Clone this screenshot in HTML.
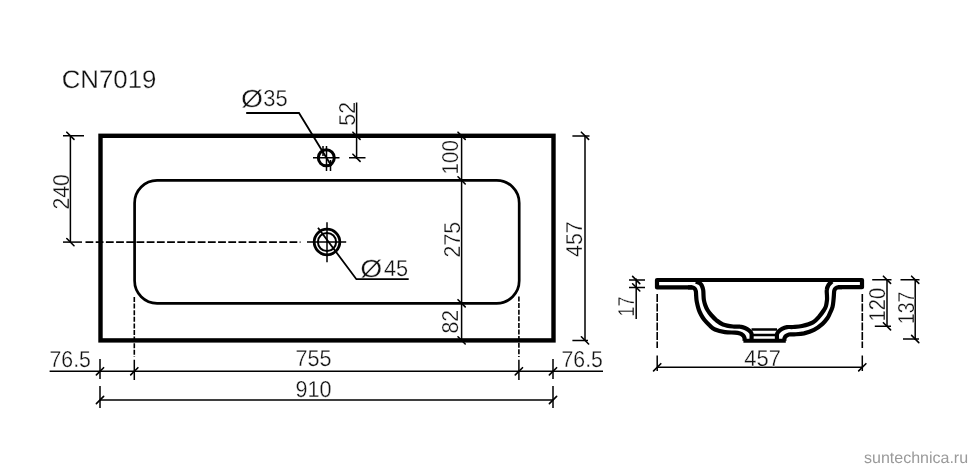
<!DOCTYPE html>
<html lang="ru">
<head>
<meta charset="utf-8">
<title>CN7019</title>
<style>
html,body{margin:0;padding:0;background:#fff;}
body{width:970px;height:469px;overflow:hidden;position:relative;}
svg{display:block;position:absolute;left:0;top:0;will-change:transform;}
text{text-rendering:geometricPrecision;font-family:"Liberation Sans",sans-serif;fill:#111;stroke:#fff;stroke-width:0.3px;}
.d{font-size:23px;}
.t{stroke:#000;stroke-width:1.5;fill:none;}
.k{stroke:#000;stroke-width:1.6;fill:none;stroke-linecap:round;}
.dash{stroke:#000;stroke-width:1.6;fill:none;stroke-dasharray:5 1.6;}
.w{stroke:#000;stroke-width:4.2;fill:none;stroke-linejoin:round;}
</style>
</head>
<body>
<svg width="970" height="469" viewBox="0 0 970 469">
<rect width="970" height="469" fill="#fff"/>

<!-- title -->
<text x="61.7" y="87.5" style="font-size:25.4px" textLength="94.8" lengthAdjust="spacingAndGlyphs">CN7019</text>

<!-- top view: outer and inner outline -->
<rect x="100.5" y="135.8" width="453" height="204.6" fill="none" stroke="#000" stroke-width="4.4"/>
<rect x="134.6" y="180.4" width="384.6" height="122.9" rx="22.5" ry="22.5" fill="none" stroke="#000" stroke-width="2.7"/>

<!-- 240 dimension -->
<path class="t" d="M70.4 135.8V242M63 135.8H84"/>
<path class="k" d="M66.8 132.2l7.2 7.2M66.8 238.5l7.2 7.2"/>
<path class="t" d="M63 242.1H82"/><path class="dash" style="stroke-dasharray:7.8 2.4;stroke-width:1.7" d="M85.5 242.1H300.5"/>
<text class="d" transform="translate(68.6 191.8) rotate(-90)" text-anchor="middle" textLength="35.5" lengthAdjust="spacingAndGlyphs">240</text>

<!-- tap hole -->
<circle cx="326.3" cy="157.8" r="8" fill="none" stroke="#000" stroke-width="3"/>
<path class="t" d="M313 157.8H339.5M326.5 146V171M323 146V156M330.5 160V171"/>
<path class="t" style="stroke-width:1.8" d="M246.2 113H299L331.5 166"/>
<text transform="translate(240.9 107.1) scale(1.15 1)" style="font-size:24.6px">Ø</text><text class="d" x="263.2" y="106.1" textLength="24.4" lengthAdjust="spacingAndGlyphs">35</text>

<!-- 52 dimension -->
<path class="t" d="M356.6 102.5V159M349 157.8H365.5"/>
<path class="k" d="M352.9 132.2l7.2 7.2M352.9 154.2l7.2 7.2"/>
<text class="d" transform="translate(354.8 113.8) rotate(-90)" text-anchor="middle" textLength="23.7" lengthAdjust="spacingAndGlyphs">52</text>

<!-- drain -->
<circle cx="327" cy="242" r="12.8" fill="none" stroke="#000" stroke-width="2.8"/>
<circle cx="327" cy="242" r="9.1" fill="none" stroke="#000" stroke-width="2"/>
<path class="t" d="M307 242H346.2M327 222.3V262.2"/>
<path class="t" style="stroke-width:1.8" d="M318 227.8L356.4 279.2H408.7"/>
<text transform="translate(360.2 277) scale(1.15 1)" style="font-size:24.6px">Ø</text><text class="d" x="383.9" y="275.8" textLength="24.2" lengthAdjust="spacingAndGlyphs">45</text>

<!-- 100 / 275 / 82 chain -->
<path class="t" d="M461.6 136V340.4"/>
<path class="k" d="M458.0 132.2l7.2 7.2M458.0 176.8l7.2 7.2M458.0 299.7l7.2 7.2M458.0 336.8l7.2 7.2"/>
<text class="d" transform="translate(457.8 157.3) rotate(-90)" text-anchor="middle" textLength="34.2" lengthAdjust="spacingAndGlyphs">100</text>
<text class="d" transform="translate(460 239.7) rotate(-90)" text-anchor="middle" textLength="35.5" lengthAdjust="spacingAndGlyphs">275</text>
<text class="d" transform="translate(458 321.7) rotate(-90)" text-anchor="middle" textLength="23.7" lengthAdjust="spacingAndGlyphs">82</text>

<!-- 457 right dimension -->
<path class="t" d="M585 136V340.4M572.4 136H589.5M572.4 340.4H588"/>
<path class="k" d="M581.4 132.2l7.2 7.2M581.4 336.8l7.2 7.2"/>
<text class="d" transform="translate(581.6 239.2) rotate(-90)" text-anchor="middle" textLength="35.5" lengthAdjust="spacingAndGlyphs">457</text>

<!-- bottom dimensions -->
<path class="dash" d="M134.3 297V357M518.9 296.5V357"/><path class="t" d="M134.3 359.8V380M518.9 359.8V380"/>
<path class="t" d="M49.6 371.3H603M100 400H553"/>
<path class="t" d="M100 359V379M100 386V408M553 359V379M553 386V408"/>
<path class="k" d="M96.4 374.9l7.2 -7.2M130.7 374.9l7.2 -7.2M515.3 374.9l7.2 -7.2M549.4 374.9l7.2 -7.2M96.4 403.6l7.2 -7.2M549.4 403.6l7.2 -7.2"/>
<text class="d" x="49.5" y="366.8" textLength="41.4" lengthAdjust="spacingAndGlyphs">76.5</text>
<text class="d" x="313.4" y="366.3" text-anchor="middle" textLength="36" lengthAdjust="spacingAndGlyphs">755</text>
<text class="d" x="313.4" y="396.9" text-anchor="middle" textLength="36" lengthAdjust="spacingAndGlyphs">910</text>
<text class="d" x="561.5" y="366.8" textLength="41.4" lengthAdjust="spacingAndGlyphs">76.5</text>

<!-- side view -->
<path class="w" stroke-linejoin="miter" d="M692 287.4H657V280H862V287.2H838"/>
<!--walls-->
<path class="w" d="M688.0 287.4C688.7 287.4 690.9 287.2 692.0 287.4C693.1 287.6 693.9 287.9 694.5 288.5C695.1 289.1 695.5 289.9 695.8 291.0C696.1 292.1 696.0 293.5 696.1 295.0C696.2 296.5 696.3 298.3 696.5 300.0C696.7 301.7 697.1 303.3 697.5 305.0C697.9 306.7 698.3 308.3 698.9 310.0C699.5 311.7 700.3 313.3 701.2 315.0C702.1 316.7 703.1 318.3 704.5 320.0C705.9 321.7 707.8 323.7 709.5 325.3C711.2 326.9 712.4 328.4 715.0 329.5C717.6 330.6 721.7 331.6 725.0 332.1C728.3 332.6 732.5 332.4 735.0 332.6C737.5 332.8 738.7 333.1 740.0 333.5C741.3 333.9 742.2 334.6 743.0 335.3C743.8 336.1 744.2 337.1 744.5 338.0C744.8 338.9 744.5 340.3 744.5 340.8"/>
<path class="w" d="M696.0 281.5C696.6 281.8 698.6 282.4 699.5 283.0C700.4 283.6 700.9 283.8 701.5 285.0C702.1 286.2 702.9 288.3 703.2 290.0C703.5 291.7 703.4 293.3 703.5 295.0C703.6 296.7 703.6 298.3 703.9 300.0C704.2 301.7 704.6 303.3 705.2 305.0C705.8 306.7 706.5 308.3 707.5 310.0C708.5 311.7 709.7 313.3 711.2 315.0C712.7 316.7 714.5 318.7 716.5 320.3C718.5 321.9 720.2 323.4 723.0 324.4C725.8 325.4 730.2 326.1 733.0 326.5C735.8 326.9 738.0 326.4 740.0 326.7C742.0 326.9 743.5 327.4 745.0 328.0C746.5 328.6 747.9 329.4 749.0 330.3C750.1 331.2 751.1 331.9 751.5 333.5C751.9 335.1 751.5 338.9 751.5 340.0"/>
<path class="w" d="M842.0 287.2C841.3 287.2 839.0 287.0 838.0 287.2C837.0 287.4 836.3 287.8 835.7 288.3C835.1 288.9 834.6 289.4 834.3 290.5C834.0 291.6 834.0 293.4 833.9 295.0C833.8 296.6 833.7 298.0 833.5 300.0C833.3 302.0 833.1 304.8 832.5 307.0C831.9 309.2 830.8 311.2 830.0 313.0C829.2 314.8 828.8 316.2 827.5 318.0C826.2 319.8 824.8 321.8 822.5 323.8C820.2 325.8 817.1 328.3 814.0 329.9C810.9 331.5 807.3 332.6 804.0 333.4C800.7 334.1 796.5 334.2 794.0 334.4C791.5 334.6 790.3 334.2 789.0 334.5C787.7 334.8 786.8 335.4 786.0 336.0C785.2 336.6 784.8 337.5 784.5 338.3C784.2 339.1 784.5 340.4 784.5 340.8"/>
<path class="w" d="M832.0 281.5C831.4 282.1 829.4 283.6 828.5 285.0C827.6 286.4 827.0 288.2 826.8 290.0C826.5 291.8 827.0 294.3 827.0 296.0C827.0 297.7 827.2 298.3 827.0 300.0C826.8 301.7 826.5 304.3 826.0 306.0C825.5 307.7 825.1 308.3 824.0 310.0C822.9 311.7 821.1 314.3 819.3 316.4C817.5 318.4 815.9 320.7 813.0 322.3C810.1 323.9 805.3 325.2 802.0 326.0C798.7 326.8 795.5 326.8 793.0 327.0C790.5 327.2 788.8 326.8 787.0 327.1C785.2 327.4 783.4 328.1 782.0 328.8C780.6 329.5 779.3 330.6 778.5 331.5C777.7 332.4 777.2 332.8 777.0 334.2C776.8 335.6 777.0 339.0 777.0 340.0"/>
<path d="M743.4 340.8H785.8" class="w" style="stroke-width:3.9" stroke-linecap="butt"/>
<path d="M751.5 329.5H777M751.5 335H777" stroke="#000" stroke-width="2.6" fill="none"/>

<!-- side view dims -->
<path class="dash" style="stroke-dasharray:8 1.5" d="M657.2 294V348M862.3 294V348"/><path class="t" d="M657.2 355.5V371M862.3 355.5V371"/>
<path class="t" d="M657.2 367.3H862.4"/>
<path class="k" d="M653.6 370.9l7.2 -7.2M858.7 370.9l7.2 -7.2"/>
<text class="d" x="762.6" y="365.8" text-anchor="middle" textLength="36.6" lengthAdjust="spacingAndGlyphs">457</text>

<path class="t" d="M636.2 278.5V319M629 280H645M629 287.4H645"/>
<path class="k" d="M632.6 276.4l7.2 7.2M632.6 283.8l7.2 7.2"/>
<text class="d" transform="translate(634 306.6) rotate(-90)" text-anchor="middle" textLength="20" lengthAdjust="spacingAndGlyphs">17</text>

<path class="t" d="M887 279.8V327M872.2 279.8H891.5M874.8 326.3H891"/>
<path class="k" d="M883.4 276.2l7.2 7.2M883.4 322.7l7.2 7.2"/>
<text class="d" transform="translate(885 304.6) rotate(-90)" text-anchor="middle" textLength="33.6" lengthAdjust="spacingAndGlyphs">120</text>

<path class="t" d="M915.2 279.8V340M900.5 279.8H919.5M903 339H919"/>
<path class="k" d="M911.6 276.2l7.2 7.2M911.6 335.4l7.2 7.2"/>
<text class="d" transform="translate(913.5 307.8) rotate(-90)" text-anchor="middle" textLength="32.2" lengthAdjust="spacingAndGlyphs">137</text>

<!-- watermark -->
<text x="864" y="463" style="font-size:16px;fill:#9a9a9a;stroke:none">suntechnica.ru</text>
</svg>
</body>
</html>
